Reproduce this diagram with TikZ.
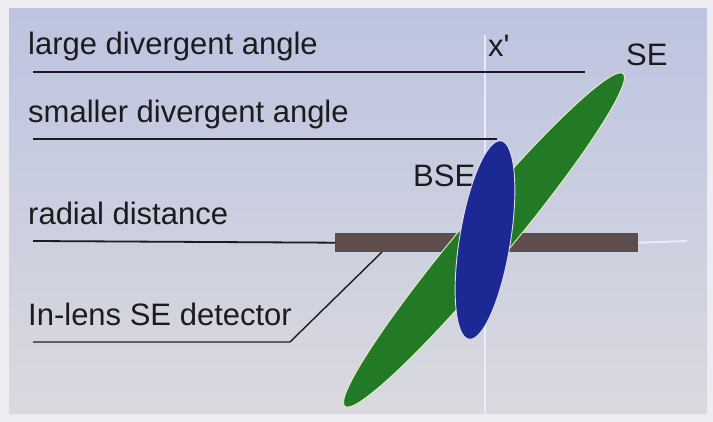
\documentclass[tikz,border=0pt]{standalone}
\usepackage{fontspec}
\setmainfont{Liberation Sans}
\usepackage{tikz}
\usetikzlibrary{positioning,shapes.geometric,calc,backgrounds}
\definecolor{ink}      {HTML}{1C1C1E}
\definecolor{rim}      {HTML}{ECECF1}
\definecolor{paneltop} {HTML}{BDC4E0}
\definecolor{panelbot} {HTML}{D9D9DF}
\definecolor{segreen}  {HTML}{227A26}
\definecolor{bseblue}  {HTML}{1C2894}
\definecolor{lensbar}  {HTML}{5E4D4D}
\definecolor{glow}     {HTML}{E8F0C0}
\tikzset{
  every node/.style={font=\fontsize{31}{37}\selectfont, text=ink},
  % --- nodes
  lbl/.style   = {anchor=base west, inner sep=0pt},
  lobe/.style  = {ellipse, inner sep=0pt, line width=0.9pt},
  selobe/.style= {lobe, fill=segreen, draw=glow},
  bselobe/.style={lobe, fill=bseblue, draw=white!85!bseblue},
  % --- edges
  rule/.style  = {draw=ink, line width=1.8pt},
  axis/.style  = {draw=white!92!blue, line width=1.4pt},
}
\begin{document}
\begin{tikzpicture}[x=1pt,y=-1pt]
  \useasboundingbox[fill=rim] (0,0) rectangle (713,422);
  \shade[top color=paneltop, bottom color=panelbot] (9,9) rectangle (707,413);

  % optical axis
  \coordinate (axtop) at (485,35);
  \coordinate (axbot) at (485,413);
  \draw[axis] (axtop) -- (axbot);

  % labels
  \node[lbl] (large)   at (28,55)  {large divergent angle};
  \node[lbl] (smaller) at (28,123) {smaller divergent angle};
  \node[lbl] (radial)  at (28,225) {radial distance};
  \node[lbl] (inlens)  at (28,326) {In-lens SE detector};
  \node[lbl] (xp)      at (488,57) {x\textquotesingle};
  \node[lbl] (se)      at (626,66) {SE};
  \node[lbl] (bse)     at (413,187) {BSE};

  % detector
  \node[fill=lensbar, minimum width=303pt, minimum height=19pt, inner sep=0pt,
        anchor=north west] (det) at (335,233) {};
  \coordinate (detend) at (687,241);
  \draw[axis, line width=2pt] (det.east) -- (detend);

  % signal lobes
  \node[selobe, minimum width=434pt, minimum height=50pt, rotate=50.1] (selobe) at (484,240) {};
  \node[bselobe, minimum width=201pt, minimum height=51pt, rotate=80.8] (bselobe) at (485,240) {};

  % rules
  \coordinate (l1a) at (33,72);  \coordinate (l1b) at (585,72);
  \coordinate (l2a) at (33,139); \coordinate (l2b) at (497,139);
  \coordinate (l3a) at (33,241);
  \coordinate (l4a) at (33,342); \coordinate (l4b) at (290,342);
  \coordinate (l4c) at (382,252);
  \draw[rule] (l1a) -- (l1b);
  \draw[rule] (l2a) -- (l2b);
  \draw[rule] (l3a) -- (det.west);
  \draw[rule, line width=1.4pt] (l4a) -- (l4b) -- (l4c);
\end{tikzpicture}
\end{document}
